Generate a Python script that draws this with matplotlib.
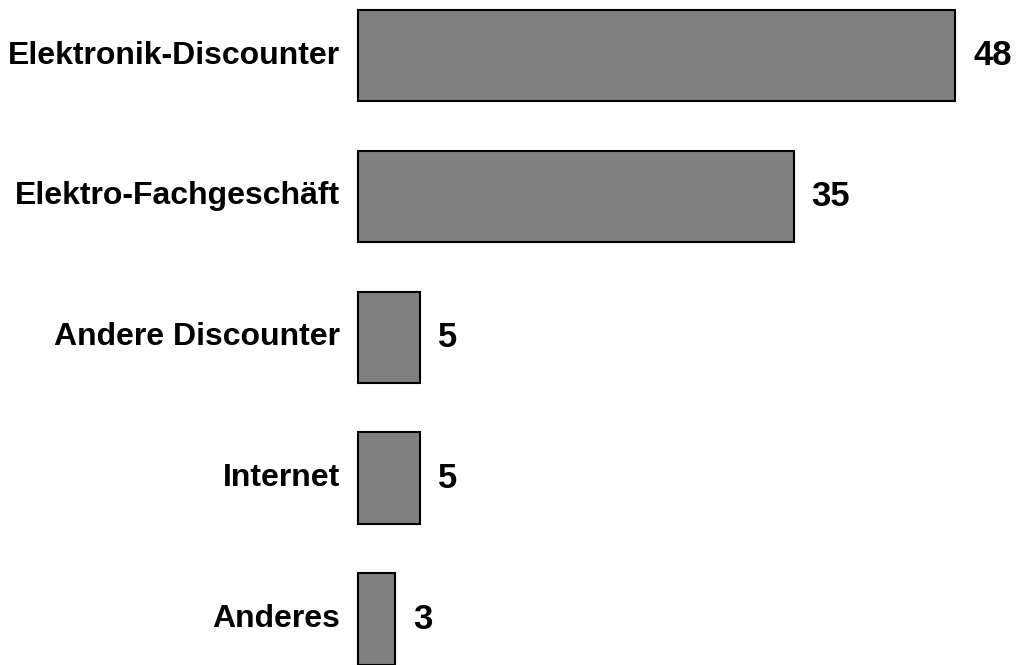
import matplotlib
matplotlib.use("Agg")
import matplotlib.pyplot as plt

# Data
categories = ["Elektronik-Discounter", "Elektro-Fachgeschäft", "Andere Discounter", "Internet", "Anderes"]
values = [48, 35, 5, 5, 3]

plt.rcParams['font.family'] = ['Liberation Sans', 'DejaVu Sans']

fig = plt.figure(figsize=(10.2, 6.65), dpi=100)
ax = fig.add_axes([0, 0, 1, 1])

y = list(range(len(categories)))
ax.barh(y, values, height=0.65, color='#808080', edgecolor='black', linewidth=1.5)

# axis ranges so that bars sit where they do in the original
ax.set_xlim(-28.78, 53.2)
ax.set_ylim(4.325, -0.394)
ax.axis('off')

for yi, cat, val in zip(y, categories, values):
    ax.annotate(cat, xy=(0, yi), xytext=(-18, 0), textcoords='offset pixels',
                ha='right', va='center', fontsize=23, fontweight='bold')
    ax.annotate(str(val), xy=(val, yi), xytext=(18, 0), textcoords='offset pixels',
                ha='left', va='center', fontsize=25, fontweight='bold')

fig.savefig('out.png', dpi=100)
